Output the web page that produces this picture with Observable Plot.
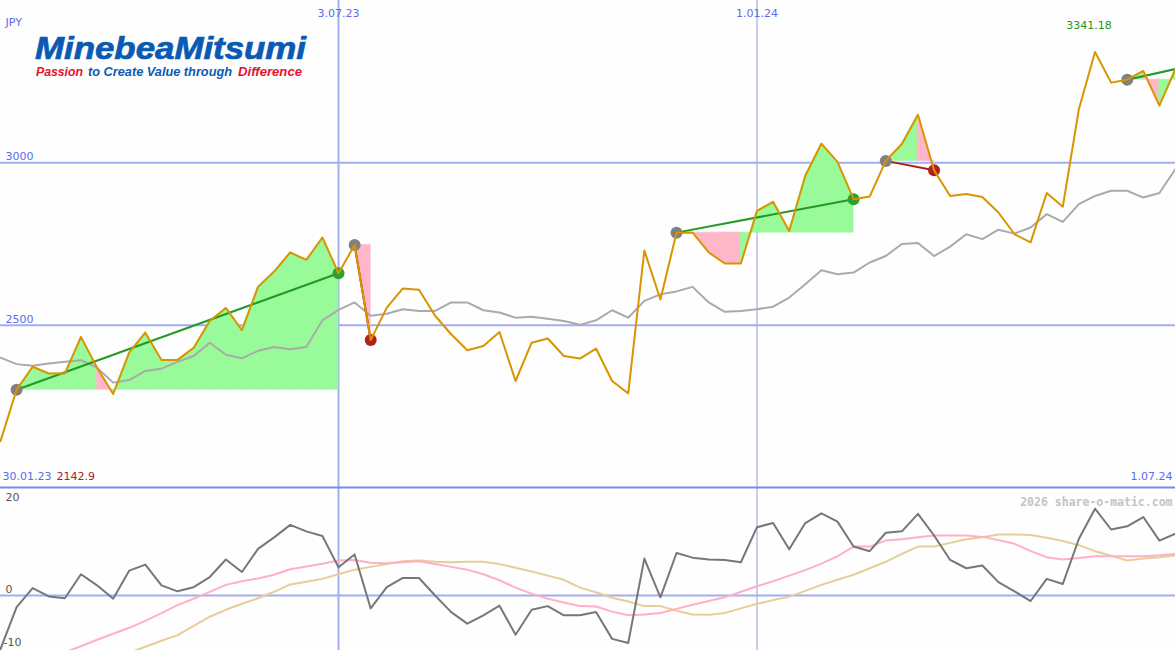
<!DOCTYPE html>
<html><head><meta charset="utf-8">
<script src="https://cdn.jsdelivr.net/npm/d3@7"></script>
<script src="https://cdn.jsdelivr.net/npm/@observablehq/plot@0.6"></script>
<style>
body{margin:0;background:#fdfefd;}
#wrap{position:relative;width:1175px;height:650px;overflow:hidden;background:#fdfefd;}
#topPanel,#botPanel{position:absolute;left:0;line-height:0;}
#topPanel{top:0;} #botPanel{top:487px;}
#logo{position:absolute;left:0;top:0;}
</style></head>
<body>
<div id="wrap"><div id="topPanel"></div><div id="botPanel"></div>
<svg id="logo" width="340" height="90">
  <text x="35" y="59" font-family="Liberation Sans, Arial, sans-serif" font-weight="bold" font-style="italic" font-size="31" fill="#0a5ab4" stroke="#0a5ab4" stroke-width="0.7" textLength="271" lengthAdjust="spacingAndGlyphs">MinebeaMitsumi</text>
  <text x="36" y="76" font-family="Liberation Sans, Arial, sans-serif" font-weight="bold" font-style="italic" font-size="12" fill="#e8112d" textLength="47" lengthAdjust="spacingAndGlyphs">Passion</text>
  <text x="88" y="76" font-family="Liberation Sans, Arial, sans-serif" font-weight="bold" font-style="italic" font-size="12" fill="#0a5ab4" textLength="144" lengthAdjust="spacingAndGlyphs">to Create Value through</text>
  <text x="238" y="76" font-family="Liberation Sans, Arial, sans-serif" font-weight="bold" font-style="italic" font-size="12" fill="#e8112d" textLength="64" lengthAdjust="spacingAndGlyphs">Difference</text>
</svg>
</div>
<script>
// ---- data ----
const currency = "JPY";
const priceTicks = [3000, 2500];
const gridDateStr = ["2023-07-03", "2024-01-01"];
const gridLabels = ["3.07.23", "1.01.24"];
const startLabel = "30.01.23";
const endLabel = "1.07.24";
const oscTicks = [20, 0];
const oscTicksLow = [-10];
const watermark = "2026 share-o-matic.com";

// weekly closes (Mondays from 6.02.23 to 1.07.24)
const price = [2142.9,2301,2372,2351,2351,2464,2369,2288,2416,2477,
  2393,2393,2430,2513,2553,2485,2618,2665,2724,2701,
  2770,2660,2747,2454,2554,2613,2609,2529,2472,2423,
  2436,2479,2328,2446,2459,2405,2397,2428,2328,2290,
  2730,2579,2785,2785,2724,2690,2690,2852,2880,2790,
  2960,3059,3003,2888,2896,3006,3058,3148,2977,2898,
  2904,2895,2847,2780,2755,2907,2865,3166,3341.18,3247,
  3256,3283,3176,3289];
const movingAvg = [2400,2380,2375,2382,2387,2392,2369,2323,2331,2359,
  2366,2387,2405,2446,2409,2398,2421,2433,2426,2433,
  2515,2547,2570,2529,2535,2549,2544,2544,2570,2570,
  2546,2539,2523,2526,2520,2513,2501,2515,2546,2523,
  2575,2595,2604,2618,2570,2541,2544,2549,2557,2585,
  2626,2669,2657,2662,2693,2713,2750,2753,2713,2742,
  2780,2765,2794,2782,2801,2842,2818,2873,2898,2914,
  2914,2893,2907,2981];
const momentum = [-11.6,-2.5,1.6,-0.2,-0.6,4.6,2.2,-0.7,5.4,6.7,
  2.2,0.9,1.8,4.0,7.8,5.1,10.1,12.6,15.3,13.9,
  12.9,6.1,8.9,-2.8,1.8,3.8,3.8,0,-3.6,-6.1,
  -4.3,-2.2,-8.5,-3.1,-2.3,-4.3,-4.3,-3.6,-9.4,-10.3,
  8.0,-0.4,9.2,8.2,7.8,7.7,7.2,14.8,15.7,10.0,
  15.7,17.8,16.0,10.6,9.6,13.6,13.9,17.7,13.0,7.7,
  5.9,6.5,2.9,0.9,-1.2,3.6,2.5,12.3,18.8,14.3,
  15.0,17.0,11.9,13.4];
const signalFast = [null,null,null,null,-12.3,-11.0,-9.6,-8.3,-7.0,-5.5,
  -3.8,-2.1,-0.7,0.8,2.3,3.1,3.7,4.5,5.7,6.3,
  6.9,7.6,7.7,7.1,7.0,7.2,7.4,6.8,6.2,5.6,
  4.6,3.3,1.7,0.4,-0.7,-1.5,-2.3,-2.4,-3.5,-4.3,
  -4.1,-3.8,-2.9,-2.0,-1.2,-0.4,0.8,2.0,3.1,4.3,
  5.5,6.9,8.5,10.6,10.6,11.9,12.2,12.6,13.0,13.0,
  13.0,12.7,12.0,11.2,9.6,8.3,7.8,8.1,8.5,8.5,
  8.5,8.5,8.7,9.0];
const signalSlow = [null,null,null,null,null,null,null,null,-12.4,-11.1,
  -9.8,-8.6,-6.6,-4.6,-3.1,-1.8,-0.6,0.8,2.4,3.0,
  3.6,4.6,5.6,6.2,6.8,7.4,7.6,7.3,7.2,7.3,
  7.3,6.8,6.0,5.2,4.3,3.4,1.7,0.7,-0.5,-1.3,
  -2.3,-2.3,-3.3,-4.1,-4.2,-3.8,-2.8,-1.8,-1.0,-0.3,
  1.0,2.3,3.4,4.5,5.9,7.3,9.0,10.6,10.6,11.4,
  12.2,12.6,13.2,13.2,13.1,12.5,11.8,10.9,9.6,8.6,
  7.6,8.0,8.3,8.7];
// trend segments (week indexes)
const segStart = [1, 22, 42, 55, 70];
const segEnd = [21, 23, 53, 58, 73];
const segEndDot = [true, true, true, true, false];

// ---- derived ----
const dates = d3.utcMonday.range(new Date(Date.UTC(2023,1,6)), new Date(Date.UTC(2024,6,2)));
const gridDates = gridDateStr.map(s => new Date(s + "T00:00:00Z"));
const n = price.length;
const rows = dates.map((d, i) => ({d, p: price[i], ma: movingAvg[i], m: momentum[i], s1: signalFast[i], s2: signalSlow[i]}));
const GREEN_FILL = "#98fa98", PINK_FILL = "#ffb6c8";
const fillRows = [];
segStart.forEach((s, k) => {
  const e = segEnd[k], base = price[s];
  for (let i = s; i < e; i++) {
    const c = price[i + 1] >= base ? GREEN_FILL : PINK_FILL;
    fillRows.push({x: dates[i], y1: base, y2: price[i], z: k * 1000 + i, c});
    fillRows.push({x: dates[i + 1], y1: base, y2: price[i + 1], z: k * 1000 + i, c});
  }
});
const segIdx = segStart.map((_, k) => k);
const isUp = k => price[segEnd[k]] >= price[segStart[k]];
const maxIdx = d3.maxIndex(price);
const BLUE = "#5b6cf0", GRID = "#a3aef2";

const topChart = Plot.plot({
  width: 1175, height: 487,
  marginTop: 0, marginRight: 0, marginBottom: 0, marginLeft: 0,
  x: {type: "utc", domain: [dates[0], dates[n - 1]], axis: null},
  y: {domain: [2000, 3500], axis: null},
  style: {background: "transparent", fontFamily: "DejaVu Sans, sans-serif", fontSize: "11px"},
  marks: [
    Plot.ruleY(priceTicks, {stroke: GRID, strokeWidth: 2}),
    Plot.ruleX(gridDates, {stroke: (d, i) => i === 0 ? GRID : "#a6acdc", strokeWidth: (d, i) => i === 0 ? 2 : 1.2}),
    Plot.areaY(fillRows, {x: "x", y1: "y1", y2: "y2", z: "z", fill: "c", stroke: "c", strokeWidth: 0.6}),
    Plot.line(rows, {x: "d", y: "ma", stroke: "#aaaaaa", strokeWidth: 2}),
    Plot.link(segIdx, {x1: k => dates[segStart[k]], y1: k => price[segStart[k]], x2: k => dates[segEnd[k]], y2: k => price[segEnd[k]],
      stroke: k => isUp(k) ? "#229922" : "#a82020", strokeWidth: 2}),
    Plot.dot(segIdx, {x: k => dates[segStart[k]], y: k => price[segStart[k]], r: 6, fill: "#808080"}),
    Plot.dot(segIdx.filter(k => segEndDot[k]), {x: k => dates[segEnd[k]], y: k => price[segEnd[k]], r: 6, fill: k => isUp(k) ? "#2f9f2f" : "#b02020"}),
    Plot.line(rows, {x: "d", y: "p", stroke: "#d99400", strokeWidth: 2}),
    Plot.ruleY([2000], {stroke: "#7a8af0", strokeWidth: 2}),
    Plot.text([currency], {text: d => d, frameAnchor: "top-left", textAnchor: "start", dx: 5, dy: 18, fill: BLUE}),
    Plot.text(priceTicks, {y: d => d, text: d => String(d), frameAnchor: "left", textAnchor: "start", dx: 5, dy: -6, fill: BLUE}),
    Plot.text(gridDates, {x: d => d, text: (d, i) => gridLabels[i], frameAnchor: "top", dy: 9, fill: BLUE}),
    Plot.text([maxIdx], {x: i => dates[i], text: i => d3.format(".2f")(price[i]), frameAnchor: "top", dy: 21, dx: -6, fill: "#229922"}),
    Plot.text([startLabel], {text: d => d, frameAnchor: "bottom-left", textAnchor: "start", dx: 2, dy: -8, fill: BLUE}),
    Plot.text([price[0]], {text: d => String(d), frameAnchor: "bottom-left", textAnchor: "start", dx: 56, dy: -8, fill: "#a82020"}),
    Plot.text([endLabel], {text: d => d, frameAnchor: "bottom-right", textAnchor: "end", dx: -3, dy: -8, fill: BLUE})
  ]
});
document.getElementById("topPanel").appendChild(topChart);

const botChart = Plot.plot({
  width: 1175, height: 163,
  marginTop: 0, marginRight: 0, marginBottom: 0, marginLeft: 0,
  x: {type: "utc", domain: [dates[0], dates[n - 1]], axis: null},
  y: {domain: [-11.92, 23.4], axis: null},
  style: {background: "transparent", fontFamily: "DejaVu Sans, sans-serif", fontSize: "11px"},
  marks: [
    Plot.ruleY([0], {stroke: GRID, strokeWidth: 2}),
    Plot.ruleX(gridDates, {stroke: (d, i) => i === 0 ? GRID : "#a6acdc", strokeWidth: (d, i) => i === 0 ? 2 : 1.2}),
    Plot.line(rows, {x: "d", y: "s2", stroke: "#e8cc9a", strokeWidth: 2, clip: true}),
    Plot.line(rows, {x: "d", y: "s1", stroke: "#ffb0c8", strokeWidth: 2, clip: true}),
    Plot.line(rows, {x: "d", y: "m", stroke: "#777777", strokeWidth: 2, clip: true}),
    Plot.ruleY([23.4], {stroke: "#7a8af0", strokeWidth: 2}),
    Plot.text(oscTicks, {y: d => d, text: d => String(d), frameAnchor: "left", textAnchor: "start", dx: 5, dy: -6, fill: "#555555"}),
    Plot.text(oscTicksLow, {y: d => d, text: d => String(d), frameAnchor: "left", textAnchor: "start", dx: 3, dy: 1, fill: "#555555"}),
    Plot.text([watermark], {text: d => d, frameAnchor: "top-right", textAnchor: "end", dx: -3, dy: 10, fill: "#c4c4c4", fontFamily: "DejaVu Sans Mono, monospace", fontSize: 11.5, fontWeight: "bold"})
  ]
});
document.getElementById("botPanel").appendChild(botChart);
</script>
</body></html>
